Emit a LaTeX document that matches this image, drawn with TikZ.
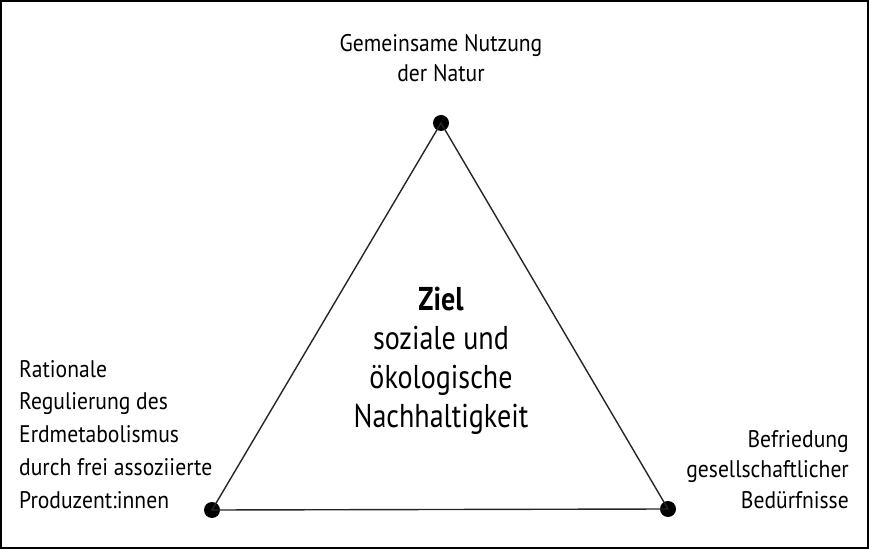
\documentclass[tikz,border=0pt]{standalone}
\usepackage{fontspec}
\setmainfont[FakeStretch=0.9]{PT Sans}
\newfontfamily\ctrfont[FakeStretch=0.85]{PT Sans}
\begin{document}
\begin{tikzpicture}[x=1pt,y=1pt,
  dot/.style={circle,fill=black,inner sep=0pt,minimum size=16pt},
  lbl/.style={inner sep=0pt,font=\fontsize{24}{30}\selectfont},
  side/.style={line width=1.4pt,black!85}]
\useasboundingbox (0,0) rectangle (869,549);
\draw[line width=2.5pt] (1,1) rectangle (868,548);
\node[dot] (top) at (441,426) {};
\node[dot] (bl) at (212,39) {};
\node[dot] (br) at (668,40) {};
\draw[side] (top.center) -- (bl.center) -- (br.center) -- cycle;
\node[lbl,align=center,anchor=base] (tlab) at (441,467) {Gemeinsame Nutzung\\der Natur};
\node[lbl,align=left,anchor=base west,font=\fontsize{24}{32.7}\selectfont] (llab) at (19,41) {Rationale\\Regulierung des\\Erdmetabolismus\\durch frei assoziierte\\Produzent:innen};
\node[lbl,align=right,anchor=base east,font=\fontsize{24}{30.5}\selectfont] (rlab) at (849,41) {Befriedung\\gesellschaftlicher\\Bedürfnisse};
\node[inner sep=0pt,align=center,anchor=base,font=\ctrfont\fontsize{33}{39}\selectfont] (ctr) at (441,122) {\textbf{Ziel}\\soziale und\\ökologische\\Nachhaltigkeit};
\end{tikzpicture}
\end{document}
